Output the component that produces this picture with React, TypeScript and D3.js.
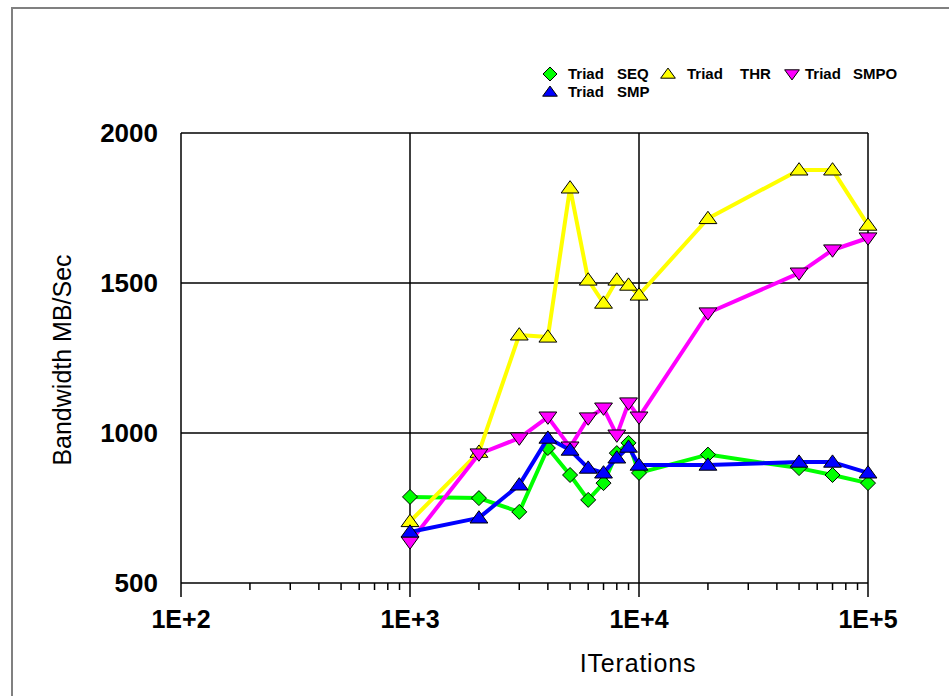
import React from "react";
import * as d3 from "d3";

const iterations = [1000, 2000, 3000, 4000, 5000, 6000, 7000, 8000, 9000, 10000, 20000, 50000, 70000, 100000];
const seq = [787, 783, 737, 950, 860, 777, 833, 933, 967, 867, 928, 883, 860, 833];
const thr = [705, 936, 1327, 1320, 1817, 1510, 1433, 1510, 1493, 1460, 1715, 1877, 1877, 1693];
const smpo = [637, 930, 983, 1053, 953, 1050, 1083, 993, 1100, 1053, 1400, 1533, 1610, 1650];
const smp = [670, 717, 827, 983, 943, 883, 867, 917, 953, 893, 893, 903, 903, 867];

const xTickLabels = ["1E+2", "1E+3", "1E+4", "1E+5"];
const yTicks = [500, 1000, 1500, 2000];

const seriesPrefix = ["Triad", "Triad", "Triad", "Triad"];
const seriesSuffix = ["SEQ", "THR", "SMPO", "SMP"];
const seriesColors = ["#00ff00", "#ffff00", "#ff00ff", "#0000ff"];
const seriesMarkers = ["diamond", "up", "down", "up"];

const W = 949, H = 696;
const L = 181, R = 868, T = 133, B = 583;

function markerPath(type: string, s: number) {
  if (type === "diamond") return `M0,${-s}L${s},0L0,${s}L${-s},0Z`;
  if (type === "up") return `M0,${-s * 0.85}L${s * 1.05},${s * 0.6}L${-s * 1.05},${s * 0.6}Z`;
  return `M0,${s * 0.85}L${s * 1.05},${-s * 0.6}L${-s * 1.05},${-s * 0.6}Z`;
}

const FONT = "Liberation Sans, Arial, sans-serif";

export default function App() {
  const x = d3.scaleLog().domain([100, 100000]).range([L, R]);
  const y = d3.scaleLinear().domain([500, 2000]).range([B, T]);
  const data = [seq, thr, smpo, smp];
  const line = d3.line<number>().x((_, i) => x(iterations[i])).y((d) => y(d));

  const minors: number[] = [];
  for (const dec of [100, 1000, 10000]) for (let k = 2; k <= 9; k++) minors.push(dec * k);
  const majors = [100, 1000, 10000, 100000];

  const legendPos = [
    { mx: 550, my: 74, tx: 568, sx: 617 },
    { mx: 668, my: 74, tx: 687, sx: 740 },
    { mx: 792, my: 74, tx: 805, sx: 853 },
    { mx: 550, my: 92, tx: 568, sx: 617 },
  ];

  return (
    <svg width={W} height={H} style={{ position: "absolute", left: 0, top: 0, background: "#fff" }}>
      <rect x={12} y={8} width={1000} height={1000} fill="#fff" stroke="#808080" strokeWidth={2} />
      {/* grid */}
      {yTicks.map((t) => (
        <line key={"gy" + t} x1={L} x2={R} y1={y(t)} y2={y(t)} stroke="#000" strokeWidth={1.5} />
      ))}
      {majors.map((m) => (
        <line key={"gx" + m} x1={x(m)} x2={x(m)} y1={T} y2={B + 14} stroke="#000" strokeWidth={1.5} />
      ))}
      {minors.map((m) => (
        <line key={"mx" + m} x1={x(m)} x2={x(m)} y1={B} y2={B + 7} stroke="#000" strokeWidth={1.5} />
      ))}
      {/* y labels */}
      {yTicks.map((t) => (
        <text key={"yl" + t} x={158} y={y(t)} dy="0.36em" textAnchor="end" fontFamily={FONT}
          fontWeight="bold" fontSize={26}>{t}</text>
      ))}
      {majors.map((m, i) => (
        <text key={"xl" + m} x={x(m)} y={628} textAnchor="middle" fontFamily={FONT}
          fontWeight="bold" fontSize={25}>{xTickLabels[i]}</text>
      ))}
      <text x={638} y={672} textAnchor="middle" fontFamily={FONT} fontSize={25} letterSpacing={0.8}>ITerations</text>
      <text transform={`translate(71,${(T + B) / 2 + 2}) rotate(-90)`} textAnchor="middle" fontFamily={FONT} fontSize={25}>Bandwidth MB/Sec</text>
      {/* series */}
      {data.map((vals, si) => (
        <g key={"s" + si}>
          <path d={line(vals) || ""} fill="none" stroke={seriesColors[si]} strokeWidth={4} strokeLinejoin="round" />
          {vals.map((v, i) => (
            <path key={i} d={markerPath(seriesMarkers[si], si === 0 ? 7.5 : 8.5)}
              transform={`translate(${x(iterations[i])},${y(v)})`} fill={seriesColors[si]} stroke="#000" strokeWidth={1} />
          ))}
        </g>
      ))}
      {/* legend */}
      {seriesSuffix.map((n, i) => (
        <g key={"lg" + i}>
          <path d={markerPath(seriesMarkers[i], 7)} transform={`translate(${legendPos[i].mx},${legendPos[i].my})`}
            fill={seriesColors[i]} stroke="#000" strokeWidth={1} />
          <text x={legendPos[i].tx} y={legendPos[i].my} dy="0.36em" fontFamily={FONT}
            fontSize={15} fontWeight="bold">{seriesPrefix[i]}</text>
          <text x={legendPos[i].sx} y={legendPos[i].my} dy="0.36em" fontFamily={FONT}
            fontSize={15} fontWeight="bold">{n}</text>
        </g>
      ))}
    </svg>
  );
}
